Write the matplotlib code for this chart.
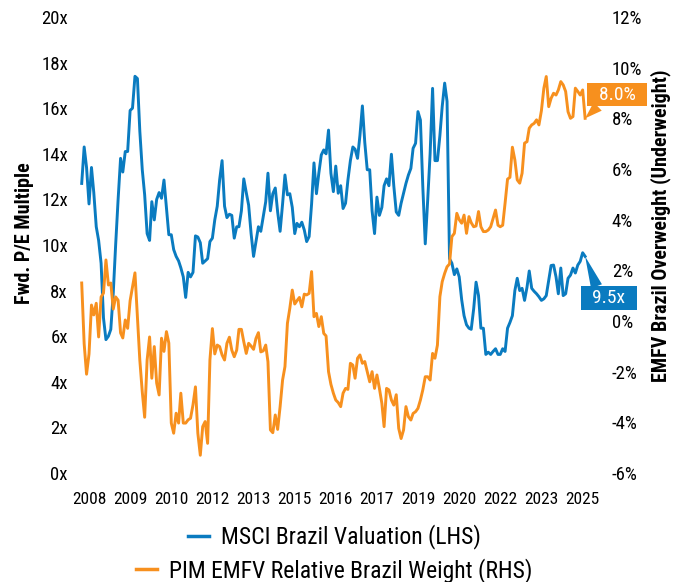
import pandas as pd
import matplotlib.pyplot as plt
from matplotlib.lines import Line2D

plt.rcParams['font.family'] = ['Roboto Condensed', 'DejaVu Sans']

# monthly readings, Oct 2007 onwards
start_month = '2007-10-01'

msci_pe = [
    12.7, 14.3, 13.4, 11.8, 13.4, 12.3, 10.8, 10.2, 9.2, 6.8, 5.85, 6.0, 6.3,
    7.9, 10.0, 12.0, 13.8, 13.2, 14.1, 14.1, 15.9, 16.0, 17.4,
    17.3, 15.0, 13.3, 12.2, 10.5, 10.2, 11.9, 11.1, 12.0, 12.3,
    12.05, 12.85, 11.65, 10.45, 10.45, 9.8, 9.5, 9.3, 9.0, 8.6,
    7.7, 8.8, 8.6, 8.8, 10.4, 10.35, 10.1, 9.2, 9.3, 9.4,
    10.15, 10.3, 11.1, 11.7, 12.85, 13.7, 11.7, 11.2, 11.35, 11.3,
    10.3, 10.8, 10.8, 11.5, 12.9, 12.3, 11.75, 10.5, 9.5, 10.15,
    10.8, 10.6, 11.25, 11.9, 13.15, 11.5, 12.25, 12.5, 11.45, 10.6,
    11.8, 13.07, 12.2, 12.25, 11.65, 10.5, 10.95, 10.8, 11.0, 10.66,
    10.15, 10.37, 11.8, 13.6, 12.25, 13.15, 13.95, 14.17, 14.0, 15.04,
    13.15, 12.34, 13.46, 12.27, 12.6, 11.6, 11.83, 12.85, 13.7, 14.3,
    14.2, 13.8, 14.8, 16.1, 14.5, 13.3, 13.3, 11.5, 10.5, 12.1,
    11.3, 11.65, 12.6, 12.9, 12.6, 13.98, 12.6, 11.45, 11.3, 11.83,
    12.27, 12.7, 13.07, 13.36, 14.24, 14.46, 15.85, 15.48, 12.56, 10.05,
    12.0, 14.0, 16.87, 13.7, 13.7, 14.8, 16.07, 17.1, 16.3, 9.4,
    9.2, 8.7, 8.95, 8.6, 7.6, 6.9, 6.5, 6.35, 6.3, 7.2,
    8.37, 7.78, 6.35, 6.35, 5.2, 5.3, 5.2, 5.33, 5.45, 5.2,
    5.2, 5.45, 5.33, 6.35, 6.6, 6.9, 8.0, 8.54, 8.0, 8.1,
    7.57, 8.15, 8.86, 8.1, 7.97, 7.86, 7.73, 7.57, 7.64, 7.78,
    8.45, 9.1, 9.12, 8.6, 7.86, 8.99, 7.78, 7.86, 8.54, 8.68,
    8.99, 8.77, 9.12, 9.28, 9.66, 9.5,
]

emfv_weight = [
    1.5, -0.9, -2.1, -1.3, 0.63, 0.24, 0.7, -0.63, 0.95, 1.1, 2.41, 1.42, 1.5,
    0.47, 0.95, 0.82, -0.47, -0.67, 0.04, -0.29, 0.8, 1.34, 1.9,
    0.16, -1.54, -2.8, -3.8, -1.54, -0.63, -2.26, -1.01, -2.45, -2.92,
    -0.68, -1.2, -0.42, -0.87, -4.03, -4.43, -3.64, -4.03, -2.85, -4.03,
    -4.03, -3.9, -3.84, -3.31, -2.6, -4.43, -5.3, -4.17, -3.97, -4.83,
    -1.54, -0.3, -1.3, -0.95, -1.01, -1.34, -1.54, -0.88, -0.64, -1.15,
    -1.41, -1.15, -0.33, -0.33, -0.82, -1.28, -0.88, -0.99, -1.12, -0.69,
    -0.46, -1.22, -1.18, -0.95, -1.61, -4.3, -4.41, -3.71, -4.28, -3.38,
    -2.33, -1.8, -0.09, 0.5, 1.22, 0.67, 0.8, 0.93, 0.56, 1.06,
    1.03, 1.09, 1.95, 0.17, 0.3, -0.22, 0.17, -0.49, -0.59, -2.0,
    -2.5, -2.85, -3.12, -3.22, -3.38, -2.85, -2.66, -2.7, -1.67, -1.74,
    -2.26, -1.47, -1.34, -1.67, -1.6, -2.0, -2.4, -2.0, -2.66, -2.13,
    -2.66, -3.25, -4.17, -2.66, -2.72, -3.12, -3.32, -2.91, -4.24, -4.64,
    -4.3, -3.38, -3.78, -3.91, -3.65, -3.58, -3.45, -3.12, -2.72, -2.2,
    -2.2, -2.33, -1.28, -1.47, -0.95, 0.96, 1.55, 1.88, 2.14, 2.25,
    3.33, 3.46, 4.25, 4.0, 3.86, 4.18, 3.46, 4.12, 3.88, 3.72,
    3.75, 4.32, 3.72, 3.53, 3.53, 3.59, 3.72, 4.05, 4.38, 3.78,
    3.72, 3.78, 4.65, 5.6, 5.67, 6.86, 6.36, 5.57, 5.44, 5.83,
    7.02, 7.08, 7.61, 7.74, 7.8, 7.94, 7.74, 8.3, 9.19, 9.65,
    8.46, 8.79, 8.99, 8.92, 9.12, 9.45, 9.32, 9.06, 8.26, 8.0,
    8.07, 9.19, 9.06, 8.92, 9.12, 8.0,
]

tick_labels = ['2008', '2009', '2010', '2012', '2013', '2015', '2016',
               '2017', '2019', '2020', '2022', '2023', '2025']
tick_start = '2008-01-01'
pe_ticks = list(range(0, 21, 2))
weight_ticks = list(range(-6, 13, 2))

blue = '#0A7BC0'
orange = '#F7901E'

dates_pe = pd.date_range(start_month, periods=len(msci_pe), freq='MS')
dates_w = pd.date_range(start_month, periods=len(emfv_weight), freq='MS')
tick_dates = pd.date_range(tick_start, periods=len(tick_labels), freq='17MS')

fig = plt.figure(figsize=(6.82, 5.82), dpi=100)
ax = fig.add_axes([0.117, 0.1873, 0.7434, 0.7835])
ax2 = ax.twinx()

ax.plot(dates_pe, msci_pe, color=blue, lw=2.1)
ax2.plot(dates_w, emfv_weight, color=orange, lw=2.1)

ax.set_xlim(pd.Timestamp('2007-09-07'), pd.Timestamp('2025-02-22'))
ax.set_ylim(0, 20)
ax2.set_ylim(-6, 12)

ax.set_xticks(tick_dates)
ax.set_xticklabels(tick_labels)
ax.set_yticks(pe_ticks)
ax.set_yticklabels([f'{v}x' for v in pe_ticks])
ax2.set_yticks(weight_ticks)
ax2.set_yticklabels([f'{v}%' for v in weight_ticks])

ax.tick_params(axis='x', length=0, labelsize=12.5, pad=14)
ax.tick_params(axis='y', length=0, labelsize=13.5, pad=8.5)
ax2.tick_params(axis='y', length=0, labelsize=13.5, pad=18)
for a in (ax, ax2):
    for s in a.spines.values():
        s.set_visible(False)

fig.text(24 / 682, 1 - 233 / 582, 'Fwd. P/E Multiple', rotation=90,
         ha='center', va='center', fontsize=14.5, fontweight='bold')
fig.text(661 / 682, 1 - 226 / 582, 'EMFV Brazil Overweight (Underweight)',
         rotation=90, ha='center', va='center', fontsize=14.5, fontweight='bold')

# end-of-series callouts
ax2.annotate(f'  {emfv_weight[-1]:.1f}%  ', xy=(dates_w[-1], emfv_weight[-1]),
             xytext=(23, 17), textcoords='offset points', ha='center', va='center',
             color='white', fontsize=14,
             bbox=dict(boxstyle='square,pad=0.14', fc=orange, ec='none'),
             arrowprops=dict(arrowstyle='wedge,tail_width=0.6', fc=orange, ec='none',
                             shrinkA=0, shrinkB=0, relpos=(0.2, 0)))
ax.annotate(f'  {msci_pe[-1]:.1f}x  ', xy=(dates_pe[-1], msci_pe[-1]),
            xytext=(17, -30), textcoords='offset points', ha='center', va='center',
            color='white', fontsize=14,
            bbox=dict(boxstyle='square,pad=0.14', fc=blue, ec='none'),
            arrowprops=dict(arrowstyle='wedge,tail_width=0.6', fc=blue, ec='none',
                            shrinkA=0, shrinkB=0, relpos=(0.28, 1)))

h1 = Line2D([], [], color=blue, lw=2.5)
h2 = Line2D([], [], color=orange, lw=2.5)
fig.legend([h1], ['MSCI Brazil Valuation (LHS)'], loc='center',
           bbox_to_anchor=(334 / 682, 1 - 537 / 582), frameon=False, fontsize=17,
           handlelength=0.9, handletextpad=0.5, borderpad=0, borderaxespad=0)
fig.legend([h2], ['PIM EMFV Relative Brazil Weight (RHS)'], loc='center',
           bbox_to_anchor=(334 / 682, 1 - 570.5 / 582), frameon=False, fontsize=17,
           handlelength=0.9, handletextpad=0.5, borderpad=0, borderaxespad=0)

fig.savefig('out.png', dpi=100)
